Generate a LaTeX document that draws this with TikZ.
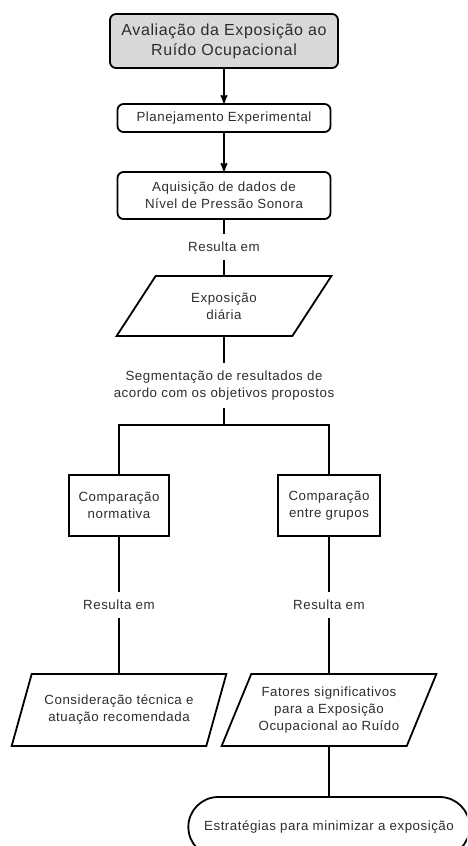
\documentclass[tikz,border=0pt]{standalone}
\usepackage{fontspec}
\setmainfont{Liberation Sans}[LetterSpace=4]
\usetikzlibrary{arrows,shapes.geometric,shapes.misc}
\definecolor{box_gray}{RGB}{217,217,217}
\definecolor{text_gray}{RGB}{45,45,45}

\begin{document}
\begin{tikzpicture}[-,line width=1.8pt,>=stealth',x=1pt,y=-1pt]
    \tikzstyle{txt}=[text=text_gray, font=\fontsize{13.3}{17}\selectfont, align=center]
    \tikzstyle{proc}=[style=txt, draw=black, rounded corners=6pt, minimum width=213pt, inner sep=0pt]
    \tikzstyle{start}=[style=proc, fill=box_gray, minimum width=228pt, minimum height=54pt, font=\fontsize{16}{20}\selectfont]
    \tikzstyle{cmp}=[style=txt, draw=black, minimum height=61pt, inner sep=0pt]
    \tikzstyle{io}=[style=txt, draw=black, trapezium, trapezium stretches=true, minimum width=215pt, inner sep=0pt]
    \tikzstyle{lbl}=[style=txt, inner sep=7pt]
    \tikzstyle{term}=[style=txt, draw=black, rounded rectangle, minimum width=288pt, minimum height=60pt]

    \useasboundingbox (0,0) rectangle (467,846);
    \clip (0,0) rectangle (467,846);

    \node[start] (aval) at (224,41)    {Avaliação da Exposição ao\\Ruído Ocupacional};
    \node[proc, minimum height=28pt] (plan) at (224,118)   {Planejamento Experimental};
    \node[proc, minimum height=47pt] (aq)   at (224,195.5) {Aquisição de dados de\\Nível de Pressão Sonora};
    \node[lbl] (res)  at (224,247)   {Resulta em};
    \node[io, trapezium left angle=55, trapezium right angle=125, minimum height=60pt] (exp) at (224,306) {Exposição\\diária};
    \node[lbl] (seg)  at (224,385.5) {Segmentação de resultados de\\acordo com os objetivos propostos};
    \coordinate (br) at (224,425);
    % ramo esquerdo / ramo direito
    \node[cmp, minimum width=100pt] (cn) at (119,505.5) {Comparação\\normativa};
    \node[cmp, minimum width=102pt] (cg) at (329,505.5) {Comparação\\entre grupos};
    \node[lbl] (resn) at (119,605)   {Resulta em};
    \node[lbl] (resg) at (329,605)   {Resulta em};
    \node[io, trapezium left angle=60, trapezium right angle=120, minimum height=72pt] (cons) at (119,710) {Consideração técnica e\\atuação recomendada};
    \node[io, trapezium left angle=60, trapezium right angle=120, minimum height=72pt] (fat)  at (329,710) {Fatores significativos\\para a Exposição\\Ocupacional ao Ruído};
    \node[term] (estr) at (329,827)  {Estratégias para minimizar a exposição};

    \path
     (aval) edge[->] (plan)
     (plan) edge[->] (aq)
     (aq)   edge (res)
     (res)  edge (exp)
     (exp)  edge (seg)
     (seg)  edge (br)
     (cn)   edge (resn)
     (resn) edge (cons)
     (cg)   edge (resg)
     (resg) edge (fat)
     (fat)  edge (estr)
     ;
    \draw (br) -| (cn);
    \draw (br) -| (cg);
\end{tikzpicture}
\end{document}
